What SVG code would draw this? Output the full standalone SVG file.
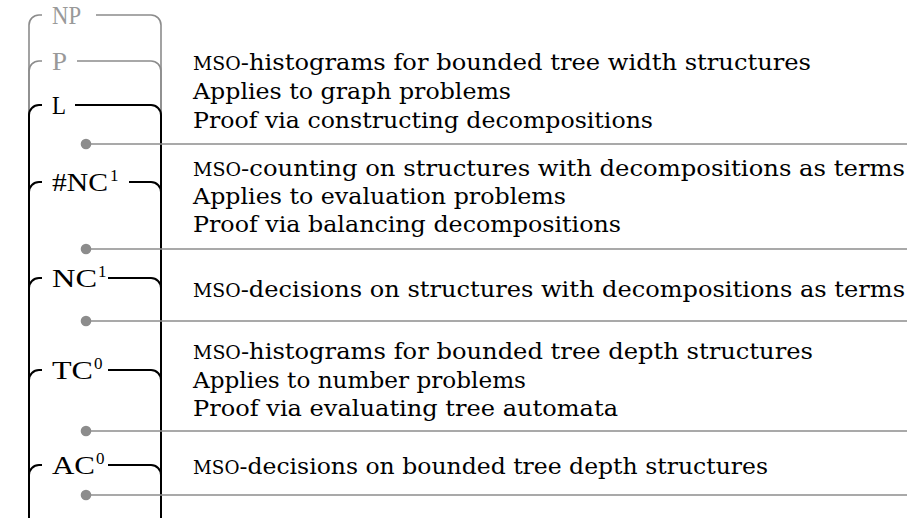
<svg xmlns="http://www.w3.org/2000/svg" width="907" height="518" viewBox="0 0 907 518">
<style>
.g{fill:none;stroke:#8c8c8c;stroke-width:1.6}
.b{fill:none;stroke:#000;stroke-width:2}
.lbl{font-family:"Liberation Serif",serif;font-size:26px;fill:#000}
.lg{fill:#999}
.sup{font-family:"Liberation Serif",serif;font-size:17px;fill:#000}
.t{font-family:"DejaVu Serif",serif;font-size:23px;fill:#000}
.sc{font-size:18px}
.dot{fill:#8c8c8c}
.sep{stroke:#8c8c8c;stroke-width:1.6}
</style>
<rect width="907" height="518" fill="#fff"/>
<g id="np">
<path class="g" d="M29 518V25A10 10 0 0 1 39 15H42M96 15H151A10 10 0 0 1 161 25V518"/>
<text class="lbl lg" x="52" y="24" textLength="29" lengthAdjust="spacingAndGlyphs">NP</text>
</g>
<g id="p">
<path class="g" d="M29 518V71A10 10 0 0 1 39 61H42M77 61H151A10 10 0 0 1 161 71V518"/>
<text class="lbl lg" x="52" y="70" textLength="15" lengthAdjust="spacingAndGlyphs">P</text>
</g>
<g id="l">
<path class="b" d="M29 518V115A10 10 0 0 1 39 105H42M75 105H151A10 10 0 0 1 161 115V518"/>
<text class="lbl" x="52" y="114" textLength="14" lengthAdjust="spacingAndGlyphs">L</text>
</g>
<g id="sharpnc1">
<path class="b" d="M29 518V192A10 10 0 0 1 39 182H42M129 182H151A10 10 0 0 1 161 192V518"/>
<text class="lbl" x="52" y="191" textLength="56" lengthAdjust="spacingAndGlyphs">#NC</text>
<text class="sup" x="110" y="181">1</text>
</g>
<g id="nc1">
<path class="b" d="M29 518V288A10 10 0 0 1 39 278H42M108 278H151A10 10 0 0 1 161 288V518"/>
<text class="lbl" x="52" y="287" textLength="45" lengthAdjust="spacingAndGlyphs">NC</text>
<text class="sup" x="98" y="277">1</text>
</g>
<g id="tc0">
<path class="b" d="M29 518V380A10 10 0 0 1 39 370H42M108 370H151A10 10 0 0 1 161 380V518"/>
<text class="lbl" x="52" y="379" textLength="41" lengthAdjust="spacingAndGlyphs">TC</text>
<text class="sup" x="94" y="369">0</text>
</g>
<g id="ac0">
<path class="b" d="M29 518V475A10 10 0 0 1 39 465H42M108 465H151A10 10 0 0 1 161 475V518"/>
<text class="lbl" x="52" y="474" textLength="43" lengthAdjust="spacingAndGlyphs">AC</text>
<text class="sup" x="96" y="464">0</text>
</g>
<g id="connectors">
<line class="sep" x1="86" y1="144" x2="907" y2="144"/><circle class="dot" cx="86" cy="144" r="5.3"/>
<line class="sep" x1="86" y1="249" x2="907" y2="249"/><circle class="dot" cx="86" cy="249" r="5.3"/>
<line class="sep" x1="86" y1="321" x2="907" y2="321"/><circle class="dot" cx="86" cy="321" r="5.3"/>
<line class="sep" x1="86" y1="431" x2="907" y2="431"/><circle class="dot" cx="86" cy="431" r="5.3"/>
<line class="sep" x1="86" y1="495" x2="907" y2="495"/><circle class="dot" cx="86" cy="495" r="5.3"/>
</g>
<g id="texts">
<text class="t" x="193" y="70" textLength="618" lengthAdjust="spacingAndGlyphs"><tspan class="sc">MSO</tspan>-histograms for bounded tree width structures</text>
<text class="t" x="193" y="99" textLength="318" lengthAdjust="spacingAndGlyphs">Applies to graph problems</text>
<text class="t" x="193" y="128" textLength="460" lengthAdjust="spacingAndGlyphs">Proof via constructing decompositions</text>
<text class="t" x="193" y="176" textLength="712" lengthAdjust="spacingAndGlyphs"><tspan class="sc">MSO</tspan>-counting on structures with decompositions as terms</text>
<text class="t" x="193" y="204" textLength="373" lengthAdjust="spacingAndGlyphs">Applies to evaluation problems</text>
<text class="t" x="193" y="232" textLength="428" lengthAdjust="spacingAndGlyphs">Proof via balancing decompositions</text>
<text class="t" x="193" y="297" textLength="712" lengthAdjust="spacingAndGlyphs"><tspan class="sc">MSO</tspan>-decisions on structures with decompositions as terms</text>
<text class="t" x="193" y="359" textLength="620" lengthAdjust="spacingAndGlyphs"><tspan class="sc">MSO</tspan>-histograms for bounded tree depth structures</text>
<text class="t" x="193" y="388" textLength="333" lengthAdjust="spacingAndGlyphs">Applies to number problems</text>
<text class="t" x="193" y="416" textLength="425" lengthAdjust="spacingAndGlyphs">Proof via evaluating tree automata</text>
<text class="t" x="193" y="474" textLength="575" lengthAdjust="spacingAndGlyphs"><tspan class="sc">MSO</tspan>-decisions on bounded tree depth structures</text>
</g>
</svg>
